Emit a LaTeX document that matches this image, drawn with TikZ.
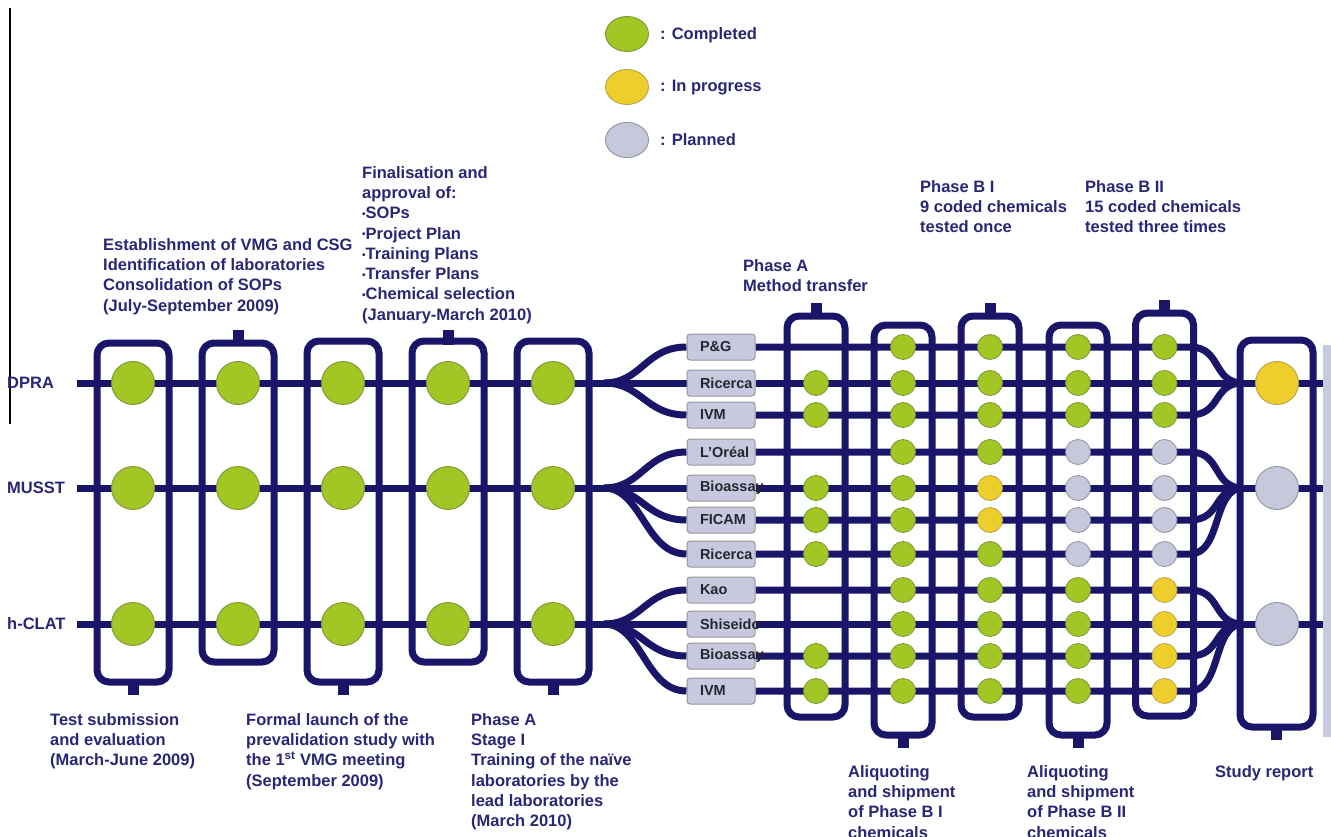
\documentclass[tikz,border=0pt]{standalone}
\usepackage{fontspec}
\setmainfont{Liberation Sans}
\usetikzlibrary{shapes.geometric,backgrounds}
\definecolor{navy}{RGB}{27,21,105}
\definecolor{txt}{RGB}{42,38,118}
\definecolor{cgreen}{RGB}{162,198,35}
\definecolor{cgreenb}{RGB}{125,150,60}
\definecolor{cyellow}{RGB}{238,206,45}
\definecolor{cyellowb}{RGB}{185,165,70}
\definecolor{cgray}{RGB}{198,200,220}
\definecolor{cgrayb}{RGB}{145,145,160}
\definecolor{labfill}{RGB}{200,200,222}
\definecolor{labline}{RGB}{150,150,155}
\definecolor{labtxt}{RGB}{38,38,48}
\definecolor{barfill}{RGB}{200,200,222}
\newcommand\lblfont{\bfseries\fontsize{16.5}{20.3}\selectfont}
\newcommand\labfont{\bfseries\fontsize{14.5}{16}\selectfont}
\newcommand\mybul{\raisebox{1.2pt}{\fontsize{10}{10}\selectfont•}}
\begin{document}
\begin{tikzpicture}[x=1pt,y=-1pt,
  rowline/.style={draw=navy,line width=7pt},
  boxframe/.style={draw=navy,line width=7pt,rounded corners=12pt},
  stemfill/.style={fill=navy},
  bigdot/.style={circle,minimum size=43pt,inner sep=0pt,line width=0.9pt},
  smalldot/.style={circle,minimum size=25pt,inner sep=0pt,line width=0.8pt},
  legdot/.style={ellipse,minimum width=43pt,minimum height=35pt,inner sep=0pt,line width=0.9pt},
  done/.style={fill=cgreen,draw=cgreenb},
  prog/.style={fill=cyellow,draw=cyellowb},
  plan/.style={fill=cgray,draw=cgrayb},
  labbox/.style={draw=labline,fill=labfill,rounded corners=3pt,line width=1pt,minimum width=68pt,minimum height=26pt,text width=42pt,align=left,inner sep=0pt,font=\labfont,text=labtxt},
  lbl/.style={text=txt,font=\lblfont,align=left,inner sep=0pt,anchor=north west},
]
\useasboundingbox (0,0) rectangle (1331,837);

% legend
\node[legdot,done] (lg1) at (627,34) {};
\node[legdot,prog] (lg2) at (627,87) {};
\node[legdot,plan] (lg3) at (627,140) {};
\node[lbl,anchor=west] (lt1) at (660,35) {: Completed};
\node[lbl,anchor=west] (lt2) at (660,88) {: In progress};
\node[lbl,anchor=west] (lt3) at (660,140) {: Planned};

% annotations
\node[lbl] (t1) at (103,238) {Establishment of VMG and CSG\\Identification of laboratories\\Consolidation of SOPs\\(July-September 2009)};
\node[lbl] (t2) at (362,166) {Finalisation and\\approval of:\\\mybul SOPs\\\mybul Project Plan\\\mybul Training Plans\\\mybul Transfer Plans\\\mybul Chemical selection\\(January-March 2010)};
\node[lbl] (t3) at (743,259) {Phase A\\Method transfer};
\node[lbl] (t4) at (920,180) {Phase B I\\9 coded chemicals\\tested once};
\node[lbl] (t5) at (1085,180) {Phase B II\\15 coded chemicals\\tested three times};
\node[lbl] (b1) at (50,713) {Test submission\\and evaluation\\(March-June 2009)};
\node[lbl] (b2) at (246,713) {Formal launch of the\\prevalidation study with\\the 1\textsuperscript{st} VMG meeting\\(September 2009)};
\node[lbl] (b3) at (471,713) {Phase A\\Stage I\\Training of the naïve\\laboratories by the\\lead laboratories\\(March 2010)};
\node[lbl] (b4) at (848,765) {Aliquoting\\and shipment\\of Phase B I\\chemicals};
\node[lbl] (b5) at (1027,765) {Aliquoting\\and shipment\\of Phase B II\\chemicals};
\node[lbl] (b6) at (1215,765) {Study report};

% row labels
\node[lbl,anchor=west] (r1) at (7,383) {DPRA};
\node[lbl,anchor=west] (r2) at (7,488) {MUSST};
\node[lbl,anchor=west] (r3) at (7,624) {h-CLAT};

% lab boxes
\foreach \i/\y/\t in {1/347/P\&G,2/383/Ricerca,3/415/IVM,4/452/L’Oréal,5/488/Bioassay,6/520/FICAM,7/554/Ricerca,8/590/Kao,9/624/Shiseido,10/656/Bioassay,11/691/IVM}
  \node[labbox] (lab\i) at (721,\y) {\t};

\begin{scope}[on background layer]
  \fill[white] (0,0) rectangle (1331,837);
  % side marks
  \draw[black,line width=1.3pt] (10,8) -- (10,424);
  \fill[barfill] (1323,345) rectangle (1331,737);
  % main rows (left)
  \foreach \Y in {383,488,624} \draw[rowline] (77,\Y) -- (608,\Y);
  % forks and lab rows
  \foreach \i/\y/\G in {1/347/383,2/383/383,3/415/383,4/452/488,5/488/488,6/520/488,7/554/488,8/590/624,9/624/624,10/656/624,11/691/624}{
    \draw[rowline] (604,\G) .. controls (642,\G) and (645,\y) .. (lab\i.west);
    \draw[rowline] (lab\i.east) -- (1190,\y) .. controls (1222,\y) and (1212,\G) .. (1243,\G);
  }
  % main rows (right)
  \foreach \Y in {383,488,624} \draw[rowline] (1238,\Y) -- (1323,\Y);
  % left frames
  \foreach \x/\t/\b in {133/343/682,238/343/662,343/341/682,448/341/662,553/341/682}
    \draw[boxframe] (\x-36,\t) rectangle (\x+36,\b);
  \foreach \x in {133,343,553} \fill[stemfill] (\x-5.5,680) rectangle (\x+5.5,695);
  \foreach \x in {238,448} \fill[stemfill] (\x-5.5,330) rectangle (\x+5.5,345);
  % right frames
  \foreach \x/\t/\b in {816/316/717,903/325/735,990/316/717,1078/325/735,1164.5/313/716}
    \draw[boxframe] (\x-29,\t) rectangle (\x+29,\b);
  \draw[boxframe] (1240,340) rectangle (1313,727);
  \foreach \x/\t in {816/316,990/316,1164.5/313} \fill[stemfill] (\x-5.5,\t-13) rectangle (\x+5.5,\t+2);
  \foreach \x/\b in {903/735,1078/735,1276.5/727} \fill[stemfill] (\x-5.5,\b-2) rectangle (\x+5.5,\b+13);
\end{scope}

% left dots
\foreach \c/\x in {1/133,2/238,3/343,4/448,5/553}
  \foreach \r/\Y in {1/383,2/488,3/624}
    \node[bigdot,done] (d\c\r) at (\x,\Y) {};

% column A
\foreach \i/\y in {2/383,3/415,5/488,6/520,7/554,10/656,11/691}
  \node[smalldot,done] (a\i) at (816,\y) {};
% column B
\foreach \i/\y in {1/347,2/383,3/415,4/452,5/488,6/520,7/554,8/590,9/624,10/656,11/691}
  \node[smalldot,done] (bb\i) at (903,\y) {};
% column C
\foreach \i/\y/\s in {1/347/done,2/383/done,3/415/done,4/452/done,5/488/prog,6/520/prog,7/554/done,8/590/done,9/624/done,10/656/done,11/691/done}
  \node[smalldot,\s] (cc\i) at (990,\y) {};
% column D
\foreach \i/\y/\s in {1/347/done,2/383/done,3/415/done,4/452/plan,5/488/plan,6/520/plan,7/554/plan,8/590/done,9/624/done,10/656/done,11/691/done}
  \node[smalldot,\s] (dd\i) at (1078,\y) {};
% column E
\foreach \i/\y/\s in {1/347/done,2/383/done,3/415/done,4/452/plan,5/488/plan,6/520/plan,7/554/plan,8/590/prog,9/624/prog,10/656/prog,11/691/prog}
  \node[smalldot,\s] (ee\i) at (1164.5,\y) {};
% final
\node[bigdot,prog] (f1) at (1277,383) {};
\node[bigdot,plan] (f2) at (1277,488) {};
\node[bigdot,plan] (f3) at (1277,624) {};
\end{tikzpicture}
\end{document}
